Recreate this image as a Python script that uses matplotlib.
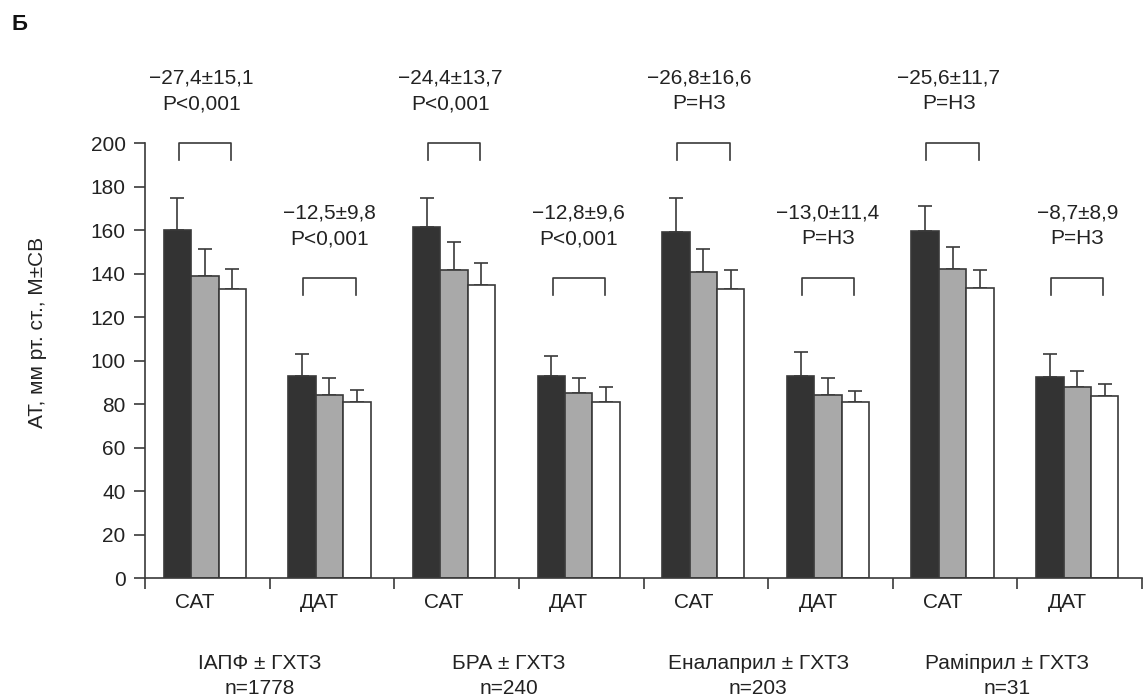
import numpy as np
import matplotlib
matplotlib.use("Agg")
import matplotlib.pyplot as plt

plt.rcParams['font.family'] = ['Liberation Sans', 'DejaVu Sans']

# groups: САТ / ДАТ for each treatment
categories = ['САТ', 'ДАТ', 'САТ', 'ДАТ', 'САТ', 'ДАТ', 'САТ', 'ДАТ']
treatments = ['ІАПФ ± ГХТЗ\nn=1778', 'БРА ± ГХТЗ\nn=240',
              'Еналаприл ± ГХТЗ\nn=203', 'Раміприл ± ГХТЗ\nn=31']

# three visits per group (dark, gray, white)
mean_v1 = [160, 93, 161.5, 93, 159, 93, 159.5, 92.5]
mean_v2 = [139, 84, 141.5, 85, 140.5, 84, 142, 88]
mean_v3 = [133, 81, 134.5, 81, 133, 81, 133.5, 83.5]
sd_v1 = [14.5, 10, 13, 9, 15.5, 11, 11.5, 10.5]
sd_v2 = [12.5, 8, 13, 7, 11, 8, 10, 7]
sd_v3 = [9, 5.5, 10.5, 7, 8.5, 5, 8, 5.5]

annot_diff = ['−27,4±15,1', '−12,5±9,8', '−24,4±13,7', '−12,8±9,6',
              '−26,8±16,6', '−13,0±11,4', '−25,6±11,7', '−8,7±8,9']
annot_p = ['P<0,001', 'P<0,001', 'P<0,001', 'P<0,001',
           'P=НЗ', 'P=НЗ', 'P=НЗ', 'P=НЗ']
bracket_top = [200, 138, 200, 138, 200, 138, 200, 138]

line_col = '#3a3a3a'
text_col = '#222222'
fs = 15

fig = plt.figure(figsize=(11.48, 6.97), dpi=100)
ax = fig.add_axes([0.1263, 0.1707, 0.8685, 0.6241])

x = np.arange(len(categories)) + 0.48
w = 0.22
series = [(mean_v1, sd_v1, '#333333'),
          (mean_v2, sd_v2, '#a9a9a9'),
          (mean_v3, sd_v3, '#ffffff')]
for k, (m, s, c) in enumerate(series):
    pos = x + (k - 1) * w
    ax.bar(pos, m, width=w, color=c, edgecolor=line_col, linewidth=1.2, zorder=2)
    ax.errorbar(pos, m, yerr=[np.zeros(len(s)), s], fmt='none',
                ecolor=line_col, elinewidth=1.2, capsize=5, capthick=1.2, zorder=1)

# brackets and annotations
for i in range(len(categories)):
    top = bracket_top[i]
    bx = [x[i] - 0.21, x[i] - 0.21, x[i] + 0.21, x[i] + 0.21]
    by = [top - 8, top, top, top - 8]
    ax.plot(bx, by, color=line_col, lw=1.2, clip_on=False)
    tx = x[i] - 0.03 if top == 200 else x[i]
    ax.text(tx, top + 30, annot_diff[i],
            ha='center', va='center', fontsize=fs, color=text_col, clip_on=False)
    ax.text(tx, top + 18, annot_p[i],
            ha='center', va='center', fontsize=fs, color=text_col, clip_on=False)

ax.set_xlim(0, 8)
ax.set_ylim(0, 200)
ax.set_yticks(np.arange(0, 201, 20))
ax.set_xticks(np.arange(0, 9, 1))
ax.set_xticklabels([])
ax.set_xticks(np.arange(len(categories)) + 0.4, minor=True)
ax.set_xticklabels(categories, minor=True)
ax.tick_params(axis='x', which='minor', length=0, pad=11, labelsize=fs, labelcolor=text_col)
ax.tick_params(axis='x', which='major', length=8, width=1.2, color=line_col, direction='out')
ax.tick_params(axis='y', length=8, width=1.2, color=line_col, direction='out',
               labelsize=fs, labelcolor=text_col, pad=6)

for side in ['top', 'right']:
    ax.spines[side].set_visible(False)
for side in ['left', 'bottom']:
    ax.spines[side].set_color(line_col)
    ax.spines[side].set_linewidth(1.2)

ax.set_ylabel('АТ, мм рт. ст., М±СВ', fontsize=fs, color=text_col)
ax.yaxis.set_label_coords(-0.098, 0.565)

for j, t in enumerate(treatments):
    ax.text(2 * j + 0.92, -35, t, ha='center', va='top', fontsize=fs,
            color=text_col, linespacing=1.4, clip_on=False)

fig.text(0.01, 0.98, 'Б', fontsize=16, fontweight='bold', color='#111111',
         ha='left', va='top')

fig.savefig('out.png', dpi=100)
